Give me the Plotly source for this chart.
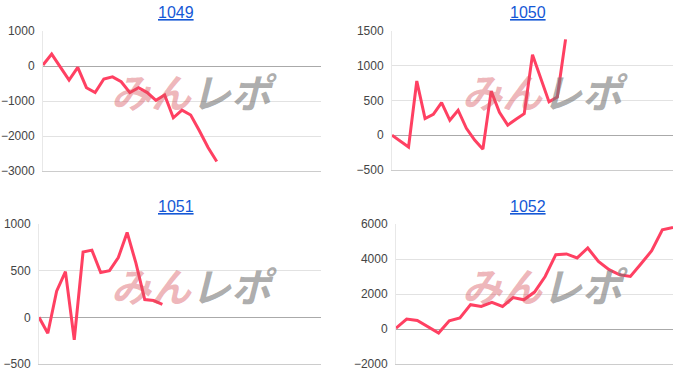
import plotly.graph_objects as go

W, H = 700, 388

titles = ["1049", "1050", "1051", "1052"]

s1049 = [30, 340, -30, -400, -40, -620, -760, -370, -310, -450, -760, -620, -760,
         -980, -830, -1480, -1260, -1400, -1850, -2330, -2730]
s1050 = [0, -80, -170, 780, 240, 300, 470, 215, 360, 100, -70, -200, 635, 330,
         145, 230, 310, 1160, 830, 480, 550, 1380]
s1051 = [0, -170, 280, 490, -240, 700, 720, 480, 500, 640, 910, 580, 190, 180, 140]
s1052 = [50, 570, 490, 150, -230, 470, 630, 1390, 1290, 1520, 1290, 1800, 1670,
         2110, 3000, 4250, 4290, 4060, 4630, 3860, 3390, 3100, 3000, 3730, 4470,
         5670, 5800]

series = [s1049, s1050, s1051, s1052]
x_spans = [32, 34, 32, 26]
y_ranges = [[-3000, 1000], [-500, 1500], [-500, 1000], [-2000, 6000]]
y_dticks = [1000, 500, 500, 2000]

# plot boxes in pixels: (left, right, top, bottom)
boxes = [(43, 321, 31, 171), (392, 673, 31, 170), (39, 321, 224, 364), (396, 673, 224, 364)]
title_pos = [(176, 13), (528, 13), (176, 206), (528, 206)]
mark_pos = [(194, 91), (545, 91), (194, 285), (545, 285)]

LINE = "#ff4062"
FONT = "Liberation Sans, Arial, sans-serif"

fig = go.Figure()
annotations = []
for i, (vals, title) in enumerate(zip(series, titles)):
    n = i + 1
    xa = "x" if n == 1 else f"x{n}"
    ya = "y" if n == 1 else f"y{n}"
    fig.add_trace(go.Scatter(
        x=list(range(len(vals))), y=vals, mode="lines",
        line=dict(color=LINE, width=3), xaxis=xa, yaxis=ya,
        showlegend=False, hoverinfo="skip",
    ))
    l, r, t, b = boxes[i]
    xkey = "xaxis" if n == 1 else f"xaxis{n}"
    ykey = "yaxis" if n == 1 else f"yaxis{n}"
    fig.update_layout(**{
        xkey: dict(domain=[l / W, r / W], range=[0, x_spans[i]], anchor=ya,
                   automargin=False,
                   showgrid=False, zeroline=False, showticklabels=False,
                   showline=True, linecolor="#cccccc", linewidth=1, ticks=""),
        ykey: dict(domain=[1 - b / H, 1 - t / H], range=y_ranges[i], anchor=xa,
                   automargin=False,
                   dtick=y_dticks[i], tick0=0, showgrid=True, gridcolor="#e2e2e2",
                   gridwidth=1, zeroline=True, zerolinecolor="#aaaaaa", zerolinewidth=1,
                   showline=True, linecolor="#e8e8e8", linewidth=1, ticks="",
                   ticklabelstandoff=5,
                   tickfont=dict(family=FONT, size=12, color="#444444")),
    })
    tx, ty = title_pos[i]
    annotations.append(dict(
        text=f"<u>{title}</u>", x=tx / W, y=1 - ty / H, xref="paper", yref="paper",
        xanchor="center", yanchor="middle", showarrow=False,
        font=dict(family=FONT, size=16, color="#1558d6"),
    ))
    mx, my = mark_pos[i]
    annotations.append(dict(
        text="<b><i><span style='color:rgba(215,80,90,0.42)'>みん</span>"
             "<span style='color:rgba(120,120,120,0.62)'>レポ</span></i></b>",
        x=mx / W, y=1 - my / H, xref="paper", yref="paper",
        xanchor="center", yanchor="middle", showarrow=False,
        font=dict(family="Noto Sans CJK JP", size=40),
    ))

fig.update_layout(
    width=W, height=H, margin=dict(l=0, r=0, t=0, b=0, pad=0, autoexpand=False),
    paper_bgcolor="white", plot_bgcolor="white",
    annotations=annotations, showlegend=False,
)

fig.write_html("out.html", config={"displayModeBar": False})
